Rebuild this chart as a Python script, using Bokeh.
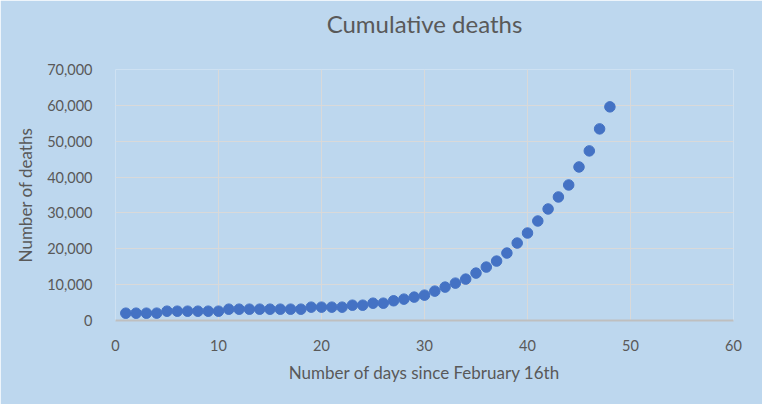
from bokeh.plotting import figure
from bokeh.models import Range1d, NumeralTickFormatter, FixedTicker, Title
from bokeh.embed import file_html
from bokeh.resources import INLINE

days = list(range(1, 49))
deaths = [2040, 2040, 2040, 2050, 2600, 2600, 2600, 2600, 2600, 2600,
          3160, 3160, 3160, 3160, 3160, 3160, 3160, 3160, 3720, 3720,
          3720, 3720, 4270, 4270, 4830, 4830, 5500, 5960, 6520, 7070,
          8190, 9310, 10420, 11540, 13220, 14900, 16570, 18810, 21600, 24400,
          27750, 31100, 34450, 37800, 42820, 47300, 53440, 59580]
x_ticks = [0, 10, 20, 30, 40, 50, 60]
y_ticks = [0, 10000, 20000, 30000, 40000, 50000, 60000, 70000]

BG = "#BDD7EE"
TXT = "#595959"
FONT = "Lato"

p = figure(width=762, height=404, output_backend="svg", toolbar_location=None,
           title="Cumulative deaths",
           x_range=Range1d(0, 60), y_range=Range1d(0, 70000),
           min_border_left=115, min_border_right=29, min_border_top=69, min_border_bottom=84)
p.background_fill_color = BG
p.border_fill_color = BG
p.outline_line_color = None

p.title.align = "center"
p.title.text_font = FONT
p.title.text_font_size = "24px"
p.title.text_font_style = "normal"
p.title.text_color = TXT
p.title.offset = 0
p.title.standoff = 0

# empty spacer panel between the title and the plot area
spacer = Title(text=" ", text_font_size="10px", standoff=19, text_color=BG)
p.add_layout(spacer, "above")

p.scatter(days, deaths, size=10.5, color="#4472C4", line_color="#4472C4")

for ax in (p.xaxis[0], p.yaxis[0]):
    ax.major_tick_line_color = None
    ax.minor_tick_line_color = None
    ax.major_label_text_font = FONT
    ax.major_label_text_font_size = "14.5px"
    ax.major_label_text_color = TXT
    ax.axis_label_text_font = FONT
    ax.axis_label_text_font_size = "17px"
    ax.axis_label_text_font_style = "normal"
    ax.axis_label_text_color = TXT

p.xaxis.ticker = FixedTicker(ticks=x_ticks)
p.yaxis.ticker = FixedTicker(ticks=y_ticks)
p.yaxis.formatter = NumeralTickFormatter(format="0,0")
p.xaxis.axis_label = "Number of days since February 16th"
p.yaxis.axis_label = "Number of deaths"
p.xaxis.axis_line_color = "#BFBFBF"
p.xaxis.axis_line_width = 2
p.yaxis.axis_line_color = None
p.xaxis.major_label_standoff = 13
p.yaxis.major_label_standoff = 17
p.xaxis.axis_label_standoff = 8
p.yaxis.axis_label_standoff = 8

p.xgrid.grid_line_color = "#D9D9D9"
p.ygrid.grid_line_color = "#D9D9D9"
p.xgrid.grid_line_width = 1
p.ygrid.grid_line_width = 1

html = file_html(p, INLINE)
open("out.html", "w").write(html)
